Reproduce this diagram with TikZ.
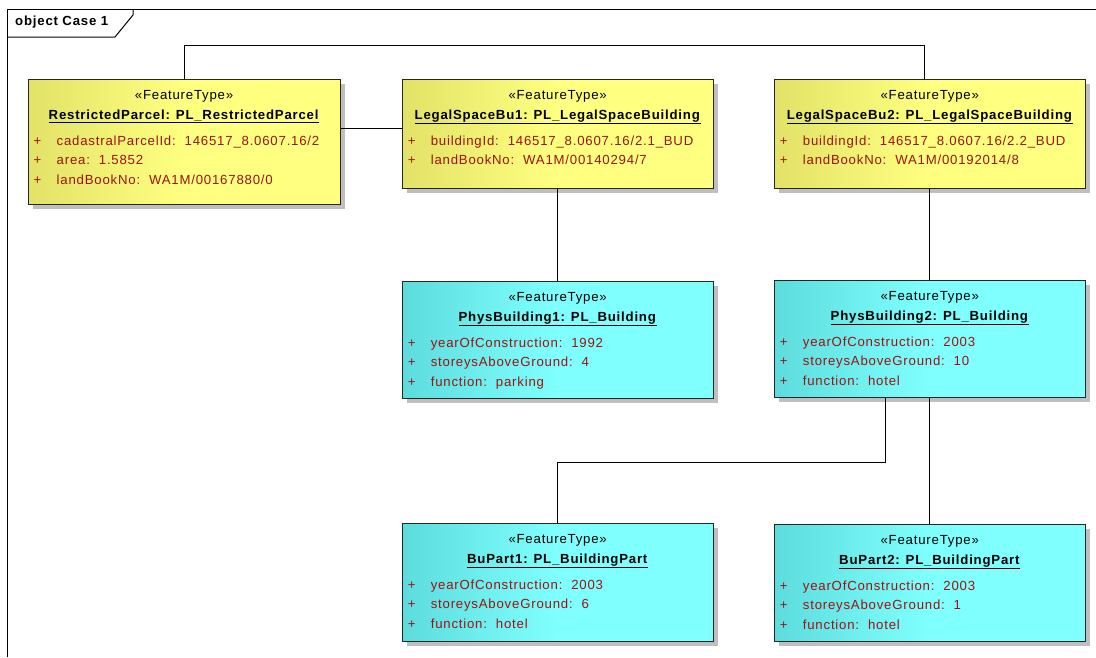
\documentclass[tikz,border=0pt]{standalone}
\usepackage{fontspec}
\setmainfont{Liberation Sans}[LetterSpace=6]
\usetikzlibrary{positioning}
\usetikzlibrary{shadows}
\definecolor{featyellow}{RGB}{255,255,128}
\definecolor{featyellowdark}{RGB}{226,226,104}
\definecolor{featcyan}{RGB}{128,255,255}
\definecolor{featcyandark}{RGB}{92,220,220}
\definecolor{attrred}{RGB}{155,20,20}

\begin{document}
\begin{tikzpicture}[x=1pt, y=1pt, font=\fontsize{13.2}{19.5}\selectfont,
    featbox/.style={rectangle, draw=black!85, line width=1.1pt, minimum width=311pt,
        drop shadow={shadow xshift=5pt, shadow yshift=-5pt, fill=black!25, opacity=1}},
    legalbox/.style={featbox, left color=featyellowdark, right color=featyellow, middle color=featyellow},
    physbox/.style={featbox, left color=featcyandark, right color=featcyan, middle color=featcyan},
    headtext/.style={align=center, inner sep=0pt},
    attrtext/.style={align=left, inner sep=0pt, text=attrred},
    assoc/.style={draw=black, line width=1pt}]
        \useasboundingbox (0,0) rectangle (1096,-657);
        \fill[white] (0,0) rectangle (1096,-657);

        % diagram frame
        \coordinate (framebl) at (7,-657);
        \coordinate (frametl) at (7,-9);
        \coordinate (frametr) at (1096,-9);
        \draw[assoc] (framebl) -- (frametl) -- (frametr);
        \draw[assoc] (7,-37) -- (115,-37) -- (133,-15) -- (133,-9);
        \node[anchor=west, inner sep=0pt] (title) at (15,-22) {\textbf{object Case 1}};

        % feature boxes
        \node[legalbox, minimum width=312pt, minimum height=125pt, anchor=north west] (parcel) at (27.5,-78.5) {};
        \node[legalbox, minimum height=109pt, right=61pt of parcel.north east, anchor=north west] (legal1) {};
        \node[legalbox, minimum height=109pt, right=60pt of legal1] (legal2) {};
        \node[physbox, minimum height=117pt, below=92pt of legal1] (phys1) {};
        \node[physbox, minimum height=117pt, below=91pt of legal2] (phys2) {};
        \node[physbox, minimum height=118pt, below=124pt of phys1] (part1) {};
        \node[physbox, minimum height=117pt, below=126pt of phys2] (part2) {};

        \node[headtext, below=12pt of parcel.north] (parcelhead) {«FeatureType»\\\underline{\textbf{RestrictedParcel: PL\_RestrictedParcel}}};
        \node[attrtext, below right=57pt and 6pt of parcel.north west] (parcelattr) {\makebox[23pt][l]{+}cadastralParcelId:~~146517\_8.0607.16/2\\\makebox[23pt][l]{+}area:~~1.5852\\\makebox[23pt][l]{+}landBookNo:~~WA1M/00167880/0};

        \node[headtext, below=12pt of legal1.north] (legal1head) {«FeatureType»\\\underline{\textbf{LegalSpaceBu1: PL\_LegalSpaceBuilding}}};
        \node[attrtext, below right=57pt and 6pt of legal1.north west] (legal1attr) {\makebox[23pt][l]{+}buildingId:~~146517\_8.0607.16/2.1\_BUD\\\makebox[23pt][l]{+}landBookNo:~~WA1M/00140294/7};

        \node[headtext, below=12pt of legal2.north] (legal2head) {«FeatureType»\\\underline{\textbf{LegalSpaceBu2: PL\_LegalSpaceBuilding}}};
        \node[attrtext, below right=57pt and 6pt of legal2.north west] (legal2attr) {\makebox[23pt][l]{+}buildingId:~~146517\_8.0607.16/2.2\_BUD\\\makebox[23pt][l]{+}landBookNo:~~WA1M/00192014/8};

        \node[headtext, below=12pt of phys1.north] (phys1head) {«FeatureType»\\\underline{\textbf{PhysBuilding1: PL\_Building}}};
        \node[attrtext, below right=57pt and 6pt of phys1.north west] (phys1attr) {\makebox[23pt][l]{+}yearOfConstruction:~~1992\\\makebox[23pt][l]{+}storeysAboveGround:~~4\\\makebox[23pt][l]{+}function:~~parking};

        \node[headtext, below=12pt of phys2.north] (phys2head) {«FeatureType»\\\underline{\textbf{PhysBuilding2: PL\_Building}}};
        \node[attrtext, below right=57pt and 6pt of phys2.north west] (phys2attr) {\makebox[23pt][l]{+}yearOfConstruction:~~2003\\\makebox[23pt][l]{+}storeysAboveGround:~~10\\\makebox[23pt][l]{+}function:~~hotel};

        \node[headtext, below=12pt of part1.north] (part1head) {«FeatureType»\\\underline{\textbf{BuPart1: PL\_BuildingPart}}};
        \node[attrtext, below right=57pt and 6pt of part1.north west] (part1attr) {\makebox[23pt][l]{+}yearOfConstruction:~~2003\\\makebox[23pt][l]{+}storeysAboveGround:~~6\\\makebox[23pt][l]{+}function:~~hotel};

        \node[headtext, below=12pt of part2.north] (part2head) {«FeatureType»\\\underline{\textbf{BuPart2: PL\_BuildingPart}}};
        \node[attrtext, below right=57pt and 6pt of part2.north west] (part2attr) {\makebox[23pt][l]{+}yearOfConstruction:~~2003\\\makebox[23pt][l]{+}storeysAboveGround:~~1\\\makebox[23pt][l]{+}function:~~hotel};

        % associations
        \coordinate (topline) at (0,-45);
        \coordinate (splitline) at (0,-462);
        \draw[assoc] (parcel.north) -- (parcel.north |- topline) -| ([xshift=-5pt]legal2.north);
        \draw[assoc] ([yshift=13pt]parcel.east) -- ([yshift=13pt]parcel.east -| legal1.west);
        \draw[assoc] (legal1.south) -- (phys1.north);
        \draw[assoc] (legal2.south) -- (phys2.north);
        \draw[assoc] ([xshift=-44pt]phys2.south) -- ([xshift=-44pt]phys2.south |- splitline) -| (part1.north);
        \draw[assoc] (phys2.south) -- (part2.north);
    \end{tikzpicture}
\end{document}
